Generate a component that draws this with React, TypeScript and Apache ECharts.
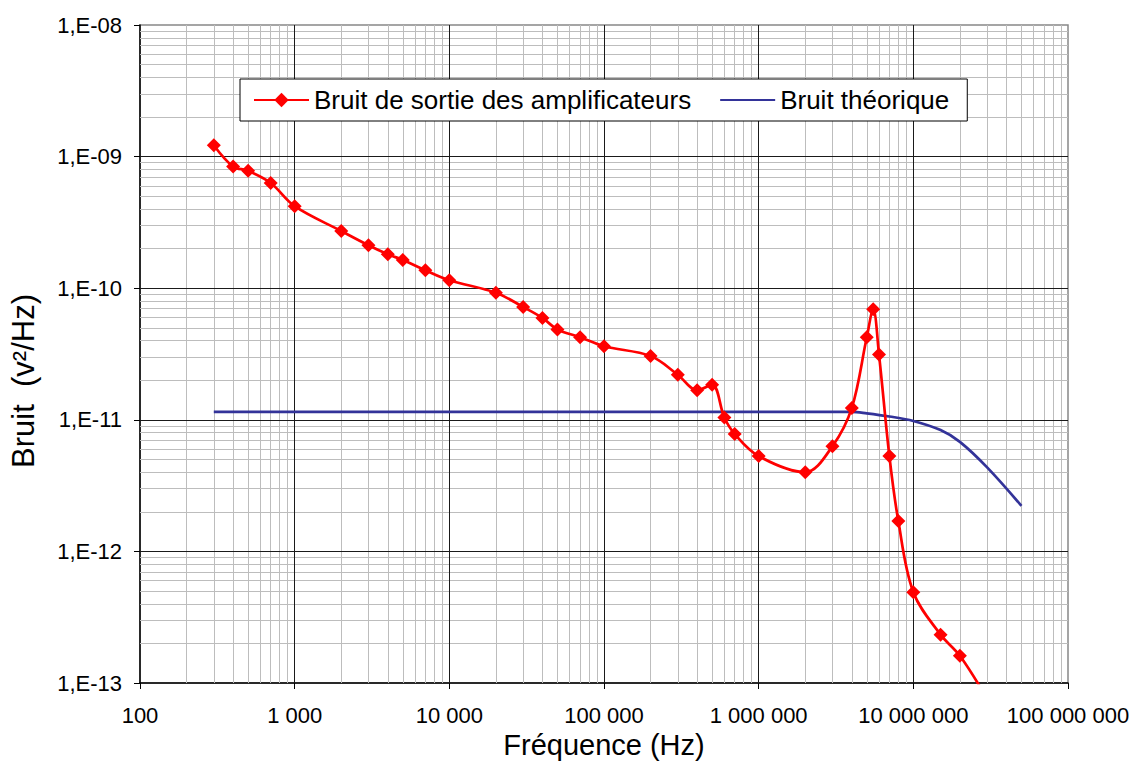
import React, { useEffect, useRef } from "react";
import * as echarts from "echarts";

// Output noise of the amplifiers (Hz, V²/Hz)
const noiseFreq = [
  300, 400, 500, 700, 1000, 2000, 3000, 4000, 5000, 7000, 10000, 20000, 30000,
  40000, 50000, 70000, 100000, 200000, 300000, 400000, 500000, 600000, 700000,
  1000000, 2000000, 3000000, 4000000, 5000000, 5500000, 6000000, 7000000,
  8000000, 10000000, 15000000, 20000000, 30000000,
];
const noiseValues = [
  1.22e-9, 8.4e-10, 7.8e-10, 6.3e-10, 4.2e-10, 2.72e-10, 2.12e-10, 1.81e-10,
  1.64e-10, 1.37e-10, 1.15e-10, 9.25e-11, 7.2e-11, 5.94e-11, 4.86e-11, 4.24e-11,
  3.62e-11, 3.05e-11, 2.2e-11, 1.68e-11, 1.85e-11, 1.04e-11, 7.8e-12, 5.3e-12,
  4.0e-12, 6.3e-12, 1.23e-11, 4.24e-11, 6.92e-11, 3.13e-11, 5.3e-12, 1.7e-12,
  4.9e-13, 2.33e-13, 1.61e-13, 7.6e-14,
];

// Theoretical noise
const theoryFreq = [300, 1000000, 2000000, 4000000, 5000000, 7000000, 10000000, 15000000, 20000000, 30000000, 50000000];
const theoryValues = [1.15e-11, 1.15e-11, 1.15e-11, 1.15e-11, 1.12e-11, 1.06e-11, 9.8e-12, 8.35e-12, 6.8e-12, 4.35e-12, 2.22e-12];

const seriesNames = ["Bruit de sortie des amplificateurs", "Bruit théorique"];
const xTitle = "Fréquence (Hz)";
const yTitle = "Bruit  (v²/Hz)";

// Axis ranges (decades)
const xMin = 100;
const xMax = 100000000;
const yMin = 1e-13;
const yMax = 1e-8;

const FONT = '"Liberation Sans", Arial, Helvetica, sans-serif';

function decades(lo: number, hi: number): number[] {
  const out: number[] = [];
  for (let e = Math.round(Math.log10(lo)); e <= Math.round(Math.log10(hi)); e++) out.push(Math.pow(10, e));
  return out;
}

export default function App() {
  const ref = useRef<HTMLDivElement>(null);

  useEffect(() => {
    document.body.style.margin = "0";
    if (!ref.current) return;
    const chart = echarts.init(ref.current, undefined, { renderer: "svg" });

    const xDec = decades(xMin, xMax);
    const yDec = decades(yMin, yMax);
    const minorX: number[] = [];
    xDec.slice(0, -1).forEach((d) => { for (let k = 2; k <= 9; k++) minorX.push(k * d); });
    const minorY: number[] = [];
    yDec.slice(0, -1).forEach((d) => { for (let k = 2; k <= 9; k++) minorY.push(k * d); });
    const majorX = xDec.slice(1, -1);
    const majorY = yDec.slice(1, -1);

    const minorStyle = { color: "#bdbdbd", width: 1, type: "solid" };
    const majorStyle = { color: "#1a1a1a", width: 1, type: "solid" };
    const vLine = (v: number, st: any) => [{ coord: [v, yMin], lineStyle: st }, { coord: [v, yMax] }];
    const hLine = (v: number, st: any) => [{ coord: [xMin, v], lineStyle: st }, { coord: [xMax, v] }];
    const gridLines = [
      ...minorX.map((v) => vLine(v, minorStyle)),
      ...minorY.map((v) => hLine(v, minorStyle)),
      ...majorX.map((v) => vLine(v, majorStyle)),
      ...majorY.map((v) => hLine(v, majorStyle)),
    ];

    const fmtX = (v: number) => String(Math.round(v)).replace(/\B(?=(\d{3})+(?!\d))/g, " ");
    const fmtY = (v: number) => {
      const e = Math.round(Math.log10(v));
      return "1,E" + (e < 0 ? "-" : "+") + String(Math.abs(e)).padStart(2, "0");
    };

    chart.setOption({
      animation: false,
      backgroundColor: "#ffffff",
      textStyle: { fontFamily: FONT },
      grid: {
        left: 140, right: 67, top: 25, bottom: 87,
        show: true, borderColor: "#888888", borderWidth: 1.5, backgroundColor: "transparent",
      },
      legend: {
        data: [
          { name: seriesNames[0] },
          { name: seriesNames[1], itemStyle: { opacity: 0 } },
        ],
        left: 240, top: 79,
        orient: "horizontal",
        itemWidth: 55, itemHeight: 18, itemGap: 28,
        padding: [8, 18, 8, 13],
        borderColor: "#000", borderWidth: 1, backgroundColor: "#fff",
        textStyle: { fontSize: 26, color: "#000", fontFamily: FONT },
        selectedMode: false,
        z: 10,
      },
      xAxis: {
        type: "log", logBase: 10, min: xMin, max: xMax,
        name: xTitle, nameLocation: "middle", nameGap: 44,
        nameTextStyle: { fontSize: 29, color: "#000", fontFamily: FONT },
        axisLine: { show: true, onZero: false, lineStyle: { color: "#000", width: 1.5 } },
        axisTick: { show: true, length: 6, lineStyle: { color: "#000", width: 1 } },
        axisLabel: { formatter: fmtX, fontSize: 22, color: "#000", margin: 21, showMinLabel: true, showMaxLabel: true, fontFamily: FONT },
        splitLine: { show: false },
      },
      yAxis: {
        type: "log", logBase: 10, min: yMin, max: yMax,
        axisLine: { show: true, onZero: false, lineStyle: { color: "#000", width: 1.5 } },
        axisTick: { show: true, length: 6, lineStyle: { color: "#000", width: 1 } },
        axisLabel: { formatter: fmtY, fontSize: 22, color: "#000", margin: 18, showMinLabel: true, showMaxLabel: true, fontFamily: FONT },
        splitLine: { show: false },
      },
      graphic: [
        {
          type: "text", x: 23, y: 381, rotation: Math.PI / 2,
          style: {
            text: yTitle, fill: "#000", font: `31px ${FONT}`,
            textAlign: "center", textVerticalAlign: "middle", align: "center", verticalAlign: "middle",
          },
        },
      ],
      series: [
        {
          name: "grid", type: "line", data: [], z: 1, silent: true,
          markLine: { z: 1, silent: true, symbol: ["none", "none"], label: { show: false }, animation: false, data: gridLines },
        },
        {
          name: seriesNames[0], type: "line", z: 3,
          data: noiseFreq.map((f, i) => [f, noiseValues[i]]),
          symbol: "diamond", symbolSize: 14, showSymbol: true, smooth: 0.35, clip: true,
          itemStyle: { color: "#ff0000" },
          lineStyle: { color: "#ff0000", width: 2.7 },
        },
        {
          name: seriesNames[1], type: "line", z: 2,
          data: theoryFreq.map((f, i) => [f, theoryValues[i]]),
          symbol: "none", showSymbol: false, smooth: 0.35,
          itemStyle: { color: "#333399" },
          lineStyle: { color: "#333399", width: 2.7 },
        },
      ],
    });

    return () => chart.dispose();
  }, []);

  return <div ref={ref} style={{ width: 1135, height: 770 }} />;
}
